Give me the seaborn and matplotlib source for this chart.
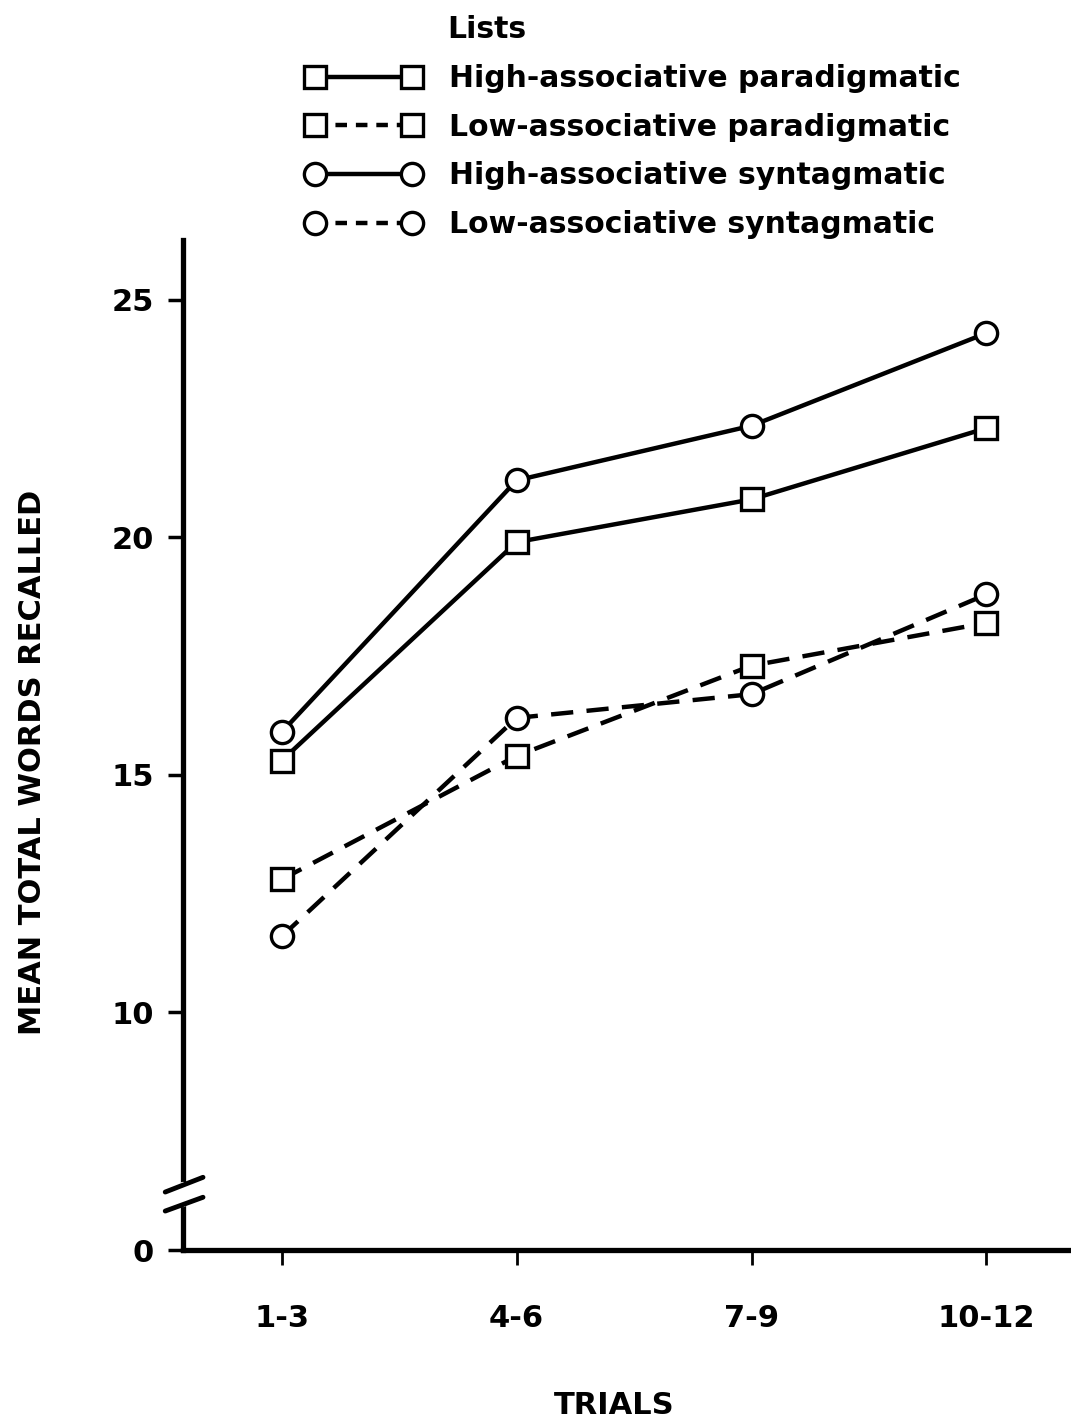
import matplotlib
matplotlib.use("Agg")
import matplotlib.pyplot as plt
from matplotlib.lines import Line2D
import seaborn as sns
import pandas as pd

# values
trials = ["1-3", "4-6", "7-9", "10-12"]
high_para = [15.3, 19.9, 20.8, 22.3]
low_para = [12.8, 15.4, 17.3, 18.2]
high_synt = [15.9, 21.2, 22.35, 24.3]
low_synt = [11.6, 16.2, 16.7, 18.8]

list_names = ["High-associative paradigmatic", "Low-associative paradigmatic",
              "High-associative syntagmatic", "Low-associative syntagmatic"]
series = [high_para, low_para, high_synt, low_synt]

# the axis is broken: "0" is drawn where 5 would be
y_ticks = [5, 10, 15, 20, 25]
y_tick_labels = ["0", "10", "15", "20", "25"]

rows = []
for name, vals in zip(list_names, series):
    for t, v in zip(trials, vals):
        rows.append({"Trials": t, "Recalled": v, "List": name})
df = pd.DataFrame(rows)

sns.set_style("ticks")
plt.rcParams["font.family"] = ["DejaVu Sans"]
plt.rcParams["font.weight"] = "bold"
for key in ["text.color", "axes.labelcolor", "xtick.color", "ytick.color"]:
    plt.rcParams[key] = "black"

fig = plt.figure(figsize=(10.71, 14.21), dpi=100)
ax = fig.add_axes([183 / 1071, 171 / 1421, 1 - 183 / 1071, 1010 / 1421])

markers = {list_names[0]: "s", list_names[1]: "s", list_names[2]: "o", list_names[3]: "o"}
dashes = {list_names[0]: "", list_names[1]: (5, 3), list_names[2]: "", list_names[3]: (5, 3)}

sns.lineplot(data=df, x="Trials", y="Recalled", style="List", markers=markers,
             dashes=dashes, color="black", linewidth=3.2, markersize=16,
             markerfacecolor="white", markeredgecolor="black", mew=2.4,
             errorbar=None, legend=False, ax=ax)

ax.set_xlim(-0.42, 3.36)
ax.set_ylim(5, 26.26)
ax.set_yticks(y_ticks)
ax.set_yticklabels(y_tick_labels)

for side in ["top", "right"]:
    ax.spines[side].set_visible(False)
for side in ["left", "bottom"]:
    ax.spines[side].set_linewidth(3.8)
    ax.spines[side].set_color("black")

ax.tick_params(axis="y", direction="out", length=11, width=2.5, labelsize=22, pad=10)
ax.tick_params(axis="x", direction="out", length=11, width=2, labelsize=22, pad=28)
for lab in ax.get_xticklabels() + ax.get_yticklabels():
    lab.set_fontweight("bold")

ax.set_xlabel("TRIALS", fontsize=22, fontweight="bold")
ax.set_ylabel("MEAN TOTAL WORDS RECALLED", fontsize=22, fontweight="bold")
ax.xaxis.set_label_coords(0.486, -0.140)
ax.yaxis.set_label_coords(-0.153, 0.483)

# axis break marks
tr = ax.get_yaxis_transform()
ax.plot([0, 0], [5.99, 6.34], color="white", lw=6, transform=tr, clip_on=False, zorder=5)
ax.plot([-0.02, 0.0225], [6.22, 6.53], color="black", lw=3.5, transform=tr,
        clip_on=False, zorder=6, solid_capstyle="round")
ax.plot([-0.02, 0.0225], [5.82, 6.11], color="black", lw=3.5, transform=tr,
        clip_on=False, zorder=6, solid_capstyle="round")

# legend above the axes
handles = []
for name in list_names:
    handles.append(Line2D([], [], color="black", lw=3.2, marker=markers[name],
                          markersize=16, markerfacecolor="white",
                          markeredgecolor="black", mew=2.4,
                          linestyle="-" if dashes[name] == "" else (0, (2.6, 2.0))))
fig.legend(handles, list_names, loc="upper left", bbox_to_anchor=(306 / 1071, 1 - 64 / 1421),
           frameon=False, numpoints=2, handlelength=3.85, handletextpad=0.95,
           labelspacing=0.66, borderpad=0, borderaxespad=0,
           prop={"size": 21.5, "weight": "bold"})
fig.text(447 / 1071, 1 - 30 / 1421, "Lists", fontsize=21.5, fontweight="bold",
         ha="left", va="center")

fig.savefig("out.png", dpi=100)
